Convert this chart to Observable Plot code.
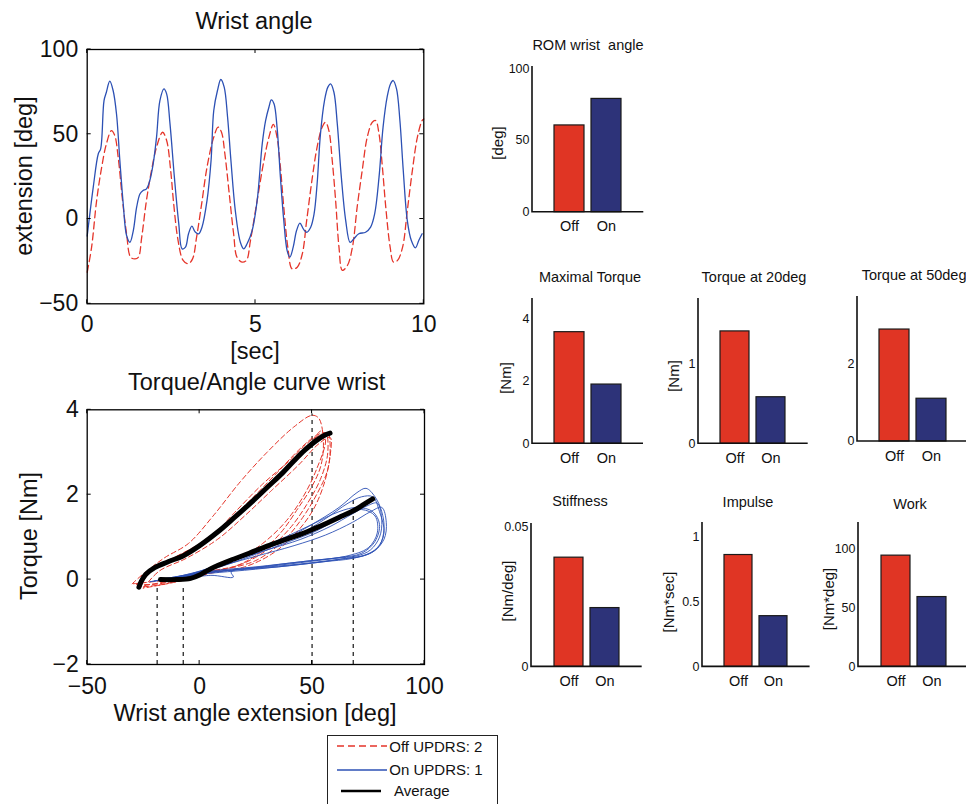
<!DOCTYPE html>
<html>
<head>
<meta charset="utf-8">
<script src="https://cdn.jsdelivr.net/npm/d3@7"></script>
<script src="https://cdn.jsdelivr.net/npm/@observablehq/plot@0.6"></script>
<style>
  html, body { margin: 0; padding: 0; background: #fff; }
  #root { position: relative; width: 966px; height: 804px; overflow: hidden; background: #fff;
          font-family: "Liberation Sans", Arial, Helvetica, sans-serif; color: #111; }
  .pl { position: absolute; }
  .pl svg { display: block; max-width: none !important; background: transparent; }
  .lbl { position: absolute; white-space: pre; line-height: 1; transform: translate(-50%, -50%); }
  .lblL { position: absolute; white-space: pre; line-height: 1; transform: translate(0, -50%); }
  .vlbl { position: absolute; white-space: pre; line-height: 1; transform: translate(-50%, -50%) rotate(-90deg); }
  #legend { position: absolute; left: 327px; top: 735px; width: 169px; height: 90px;
            border: 1.3px solid #222; background: #fff; }
</style>
</head>
<body>
<div id="root"></div>
<script>
// ---------------- DATA ----------------
// Wrist angle time series (sec, deg)
const onTime = [0, 0.18, 0.33, 0.4, 0.5, 0.57, 0.67, 0.77, 0.87, 0.97, 1.07, 1.17, 1.27, 1.37, 1.47, 1.57, 1.66, 1.76, 1.86, 1.96, 2.06, 2.16, 2.28, 2.36, 2.46, 2.59, 2.72, 2.82, 2.92, 3.01, 3.11, 3.21, 3.31, 3.41, 3.56, 3.68, 3.76, 3.87, 3.97, 4.07, 4.17, 4.27, 4.4, 4.55, 4.65, 4.75, 4.9, 5.05, 5.2, 5.3, 5.4, 5.47, 5.55, 5.64, 5.74, 5.84, 5.94, 6.02, 6.12, 6.22, 6.32, 6.42, 6.52, 6.64, 6.74, 6.83, 6.93, 7.05, 7.15, 7.23, 7.33, 7.43, 7.55, 7.68, 7.81, 7.92, 8.07, 8.27, 8.42, 8.54, 8.67, 8.79, 8.91, 9.01, 9.09, 9.19, 9.29, 9.39, 9.51, 9.63, 9.75, 9.85, 9.95];
const onAngle = [-10, 18.8, 38.5, 41.4, 69.9, 74.8, 81.3, 75.8, 62.1, 34.5, 9, -9.7, -13.7, -6.8, 7.1, 14.9, 16.8, 17.8, 22.7, 32.5, 48.3, 69.9, 76.8, 73.8, 56.1, 24.7, -2.7, -17.6, -16.6, -8.7, -4.2, -7.7, -8.7, -4.8, 11, 34.5, 64, 75.8, 82.3, 77.8, 60.2, 34.5, 5, -13.7, -17.6, -14.6, -6.8, 11, 44.3, 58.1, 66.1, 70.3, 68, 54.2, 24.7, -0.9, -18.6, -22.5, -16.6, -6.8, -2.4, -5.8, -7.8, -4.8, 3, 20.7, 50.2, 69.9, 77.8, 79.7, 74.8, 56.1, 24.7, -0.9, -13.7, -11.7, -8.7, -7.8, -4.8, 3, 24.7, 54.2, 71.9, 79.7, 81.7, 76.8, 58.1, 28.6, -0.9, -12.7, -17, -12.7, -8.7];
const offTime = [0, 0.13, 0.28, 0.43, 0.57, 0.72, 0.82, 0.92, 1.05, 1.17, 1.29, 1.42, 1.52, 1.62, 1.76, 1.91, 2.06, 2.24, 2.36, 2.48, 2.57, 2.7, 2.85, 3.0, 3.13, 3.25, 3.4, 3.56, 3.76, 3.89, 3.99, 4.09, 4.22, 4.35, 4.45, 4.6, 4.73, 4.85, 5.05, 5.25, 5.4, 5.53, 5.64, 5.74, 5.84, 5.96, 6.09, 6.24, 6.39, 6.52, 6.69, 6.83, 6.98, 7.08, 7.18, 7.28, 7.38, 7.48, 7.58, 7.73, 7.88, 8.02, 8.17, 8.32, 8.47, 8.57, 8.67, 8.77, 8.87, 9.0, 9.1, 9.22, 9.37, 9.51, 9.66, 9.81, 9.95, 10];
const offAngle = [-31.4, -16.7, 10.9, 30.6, 44.3, 52.2, 49.2, 36.5, 10.9, -8.7, -22.5, -23.5, -22.5, -10.7, 10.9, 28.6, 42.4, 51.2, 46.3, 28.6, 8.9, -12.7, -24.4, -26.4, -23.5, -10.7, 8.9, 30.6, 48.3, 54.2, 51.2, 38.5, 14.9, -8.7, -22.5, -25.4, -24.4, -12.7, 11, 34.5, 48.3, 55.8, 48.3, 30.6, 7, -16.6, -29.4, -28.4, -20.6, -0.9, 24.7, 42.4, 54.2, 57.1, 52.2, 34.5, 11, -16.6, -30.3, -27.4, -16.6, 7, 28.6, 48.3, 57.1, 58.1, 50.2, 30.6, 7, -16.6, -25.4, -24.4, -16.6, 5, 28.6, 48.3, 58.1, 59];
const wristXTicks = [0, 5, 10];
const wristYTicks = [-50, 0, 50, 100];

// Torque / angle loops: [angle deg, torque Nm]
const offLoops = [
  [[-27,-0.18],[-24,0.15],[-16,0.5],[-5,0.85],[6,1.5],[18,2.3],[30,3.0],[42,3.6],[50,3.87],[53,3.8],[55,3.3],[54,2.7],[50,2.2],[44,1.7],[36,1.1],[26,0.6],[15,0.3],[0,0.15],[-15,-0.1],[-27,-0.18]],
  [[-26,-0.15],[-22,0.2],[-12,0.5],[0,0.85],[12,1.35],[24,1.95],[35,2.55],[45,3.1],[52,3.4],[56,3.45],[57,3.0],[54,2.4],[48,1.8],[40,1.2],[30,0.7],[18,0.35],[5,0.2],[-10,0.0],[-26,-0.15]],
  [[-28,-0.12],[-20,0.3],[-8,0.6],[5,1.0],[15,1.55],[28,2.25],[40,2.8],[50,3.3],[57,3.45],[58,3.2],[57,2.6],[52,2.0],[45,1.4],[37,0.9],[25,0.45],[12,0.25],[-2,0.1],[-18,-0.1],[-28,-0.12]],
  [[-25,-0.2],[-18,0.2],[-6,0.5],[8,0.95],[20,1.5],[32,2.1],[44,2.7],[53,3.2],[58,3.35],[58,2.9],[55,2.2],[50,1.6],[42,1.05],[32,0.6],[20,0.3],[5,0.15],[-10,-0.05],[-25,-0.2]],
  [[-30,-0.1],[-22,0.25],[-10,0.5],[2,0.9],[14,1.4],[26,2.0],[38,2.6],[48,3.1],[54,3.5],[56,3.3],[52,2.6],[46,1.95],[38,1.35],[28,0.85],[16,0.45],[2,0.2],[-14,0.0],[-30,-0.1]]
];
const onLoops = [
  [[-22,-0.05],[-10,0.05],[5,0.15],[20,0.22],[40,0.33],[55,0.42],[65,0.5],[75,0.6],[80,0.8],[82,1.2],[81,1.6],[78,1.95],[74,2.15],[70,2.05],[62,1.7],[50,1.3],[38,0.95],[25,0.65],[10,0.35],[-5,0.1],[-22,-0.05]],
  [[-18,0.0],[0,0.15],[20,0.25],[45,0.37],[62,0.48],[72,0.55],[79,0.75],[82,1.1],[80,1.6],[77,1.95],[72,1.95],[66,1.8],[55,1.4],[42,1.0],[28,0.7],[12,0.4],[-3,0.15],[-18,0.0]],
  [[-15,0.0],[5,0.18],[25,0.28],[45,0.4],[60,0.5],[70,0.56],[76,0.7],[80,1.0],[81,1.4],[79,1.8],[75,1.75],[68,1.55],[58,1.25],[45,0.95],[30,0.7],[15,0.45],[0,0.2],[-15,0.0]],
  [[-20,-0.03],[-5,0.1],[15,0.22],[35,0.3],[55,0.42],[68,0.5],[77,0.65],[82,0.95],[83,1.35],[81,1.7],[76,1.6],[68,1.35],[56,1.05],[42,0.8],[25,0.55],[8,0.3],[-8,0.08],[-20,-0.03]],
  [[-12,0.02],[5,0.2],[25,0.3],[45,0.42],[62,0.52],[72,0.62],[78,0.9],[80,1.3],[77,1.6],[70,1.7],[62,1.6],[50,1.3],[38,1.0],[25,0.7],[10,0.4],[-2,0.15],[-12,0.02]],
  [[-10,0.0],[5,0.1],[15,0.06],[14,0.18],[30,0.32],[50,0.45],[65,0.55],[75,0.75],[79,1.1],[78,1.5],[72,1.65],[64,1.5],[52,1.15],[40,0.9],[26,0.62],[12,0.35],[-10,0.0]]
];
const offAverage = [[-27,-0.18],[-26,-0.05],[-24,0.12],[-20,0.28],[-14,0.42],[-7,0.57],[0,0.8],[8,1.12],[15,1.44],[23,1.82],[30,2.17],[37,2.52],[42,2.8],[47,3.06],[52,3.28],[56,3.41],[58,3.45]];
const onAverage = [[-17.4,0.0],[-10,0.0],[-4,0.03],[0,0.11],[3,0.2],[8,0.33],[15,0.48],[22,0.62],[30,0.79],[38,0.94],[45,1.07],[51,1.2],[57,1.34],[63,1.49],[69,1.64],[73,1.77],[77,1.9]];
const markerAngles = [-18.9, -7.3, 50, 68.3];
const markerTops = [-0.2, -0.2, 3.9, 1.9];
const torqueXTicks = [-50, 0, 50, 100];
const torqueYTicks = [-2, 0, 2, 4];

// Bar panels
const barGroups = ["Off", "On"];
const romValues = [60.5, 79];
const maxTorqueValues = [3.58, 1.9];
const torque20Values = [1.40, 0.58];
const torque50Values = [2.88, 1.10];
const stiffnessValues = [0.039, 0.021];
const impulseValues = [0.86, 0.39];
const workValues = [94, 59];
const romTicks = [0, 50, 100];
const maxTorqueTicks = [0, 2, 4];
const torque20Ticks = [0, 1];
const torque50Ticks = [0, 2];
const stiffnessTicks = [0, 0.05];
const impulseTicks = [0, 0.5, 1];
const workTicks = [0, 50, 100];

// ---------------- STYLE ----------------
const FONT = '"Liberation Sans", Arial, Helvetica, sans-serif';
const RED_LINE = "#e5352a";
const BLUE_LINE = "#2c50b4";
const RED_BAR = "#e03524";
const BLUE_BAR = "#2d3379";
const fmt = d3.format("~g");
const root = document.getElementById("root");

function place(svg, left, top) {
  const d = document.createElement("div");
  d.className = "pl";
  d.style.left = left + "px";
  d.style.top = top + "px";
  d.appendChild(svg);
  root.appendChild(d);
}
function text(str, x, y, size, cls = "lbl") {
  const d = document.createElement("div");
  d.className = cls;
  d.textContent = str;
  d.style.left = x + "px";
  d.style.top = y + "px";
  d.style.fontSize = size + "px";
  root.appendChild(d);
  return d;
}
// inward ticks on all four sides (MATLAB box style)
function innerTicks(xt, yt, len) {
  return (index, scales, values, dim) => {
    const g = d3.create("svg:g").attr("stroke", "#000").attr("stroke-width", 1).attr("fill", "none");
    const top = dim.marginTop, bottom = dim.height - dim.marginBottom;
    const left = dim.marginLeft, right = dim.width - dim.marginRight;
    for (const t of xt) {
      const px = scales.x(t);
      g.append("path").attr("d", `M${px},${bottom}v${-len}M${px},${top}v${len}`);
    }
    for (const t of yt) {
      const py = scales.y(t);
      g.append("path").attr("d", `M${left},${py}h${len}M${right},${py}h${-len}`);
    }
    return g.node();
  };
}
// left + bottom axis lines for bar panels
function axisLines(index, scales, values, dim) {
  const x0 = dim.marginLeft, y0 = dim.height - dim.marginBottom;
  const y1 = dim.marginTop, x1 = dim.width - dim.marginRight;
  const g = d3.create("svg:g");
  g.append("path").attr("d", `M${x0},${y1}V${y0}H${x1}`)
    .attr("fill", "none").attr("stroke", "#111").attr("stroke-width", 1.6);
  return g.node();
}

// ---------------- WRIST ANGLE ----------------
{
  const onData = onTime.map((t, i) => ({t, v: onAngle[i]}));
  const offData = offTime.map((t, i) => ({t, v: offAngle[i]}));
  const svg = Plot.plot({
    width: 460, height: 345,
    marginLeft: 86.7, marginRight: 36.7, marginTop: 49, marginBottom: 41.7,
    x: {domain: [0, 10]},
    y: {domain: [-50, 100]},
    style: {fontFamily: FONT, fontSize: "23px", color: "#111", background: "transparent"},
    marks: [
      Plot.line(offData, {x: "t", y: "v", stroke: RED_LINE, strokeWidth: 1.3, strokeDasharray: "7,4", curve: "catmull-rom"}),
      Plot.line(onData, {x: "t", y: "v", stroke: BLUE_LINE, strokeWidth: 1.3, curve: "catmull-rom"}),
      Plot.frame({stroke: "#000", strokeWidth: 1.3}),
      innerTicks(wristXTicks, wristYTicks, 4),
      Plot.axisX({ticks: wristXTicks, tickFormat: fmt, tickSize: 0, tickPadding: 12, label: null, fontSize: 23}),
      Plot.axisY({ticks: wristYTicks, tickFormat: fmt, tickSize: 0, tickPadding: 9, label: null, fontSize: 23})
    ]
  });
  place(svg, 0, 0);
  text("Wrist angle", 254, 22, 23.5);
  text("[sec]", 255, 352, 23.5);
  text("extension [deg]", 25, 176, 23.5, "vlbl");
}

// ---------------- TORQUE / ANGLE ----------------
{
  const offLoopData = offLoops.flatMap((loop, k) => loop.map(([a, tq]) => ({a, tq, k})));
  const onLoopData = onLoops.flatMap((loop, k) => loop.map(([a, tq]) => ({a, tq, k})));
  const offAvgData = offAverage.map(([a, tq]) => ({a, tq}));
  const onAvgData = onAverage.map(([a, tq]) => ({a, tq}));
  const markerData = markerAngles.map((a, i) => ({a, top: markerTops[i]}));
  const svg = Plot.plot({
    width: 460, height: 330,
    marginLeft: 86.7, marginRight: 36, marginTop: 29.3, marginBottom: 46,
    x: {domain: [-50, 100]},
    y: {domain: [-2, 4]},
    style: {fontFamily: FONT, fontSize: "23px", color: "#111", background: "transparent"},
    marks: [
      Plot.ruleX(markerData, {x: "a", y1: -2, y2: "top", stroke: "#000", strokeWidth: 1.1, strokeDasharray: "4,4"}),
      Plot.line(offLoopData, {x: "a", y: "tq", z: "k", stroke: RED_LINE, strokeWidth: 1, strokeDasharray: "5,3", curve: "catmull-rom"}),
      Plot.line(onLoopData, {x: "a", y: "tq", z: "k", stroke: BLUE_LINE, strokeWidth: 0.9, curve: "catmull-rom"}),
      Plot.line(offAvgData, {x: "a", y: "tq", stroke: "#000", strokeWidth: 5, strokeLinecap: "round", curve: "catmull-rom"}),
      Plot.line(onAvgData, {x: "a", y: "tq", stroke: "#000", strokeWidth: 5, strokeLinecap: "round", curve: "catmull-rom"}),
      Plot.frame({stroke: "#000", strokeWidth: 1.3}),
      innerTicks(torqueXTicks, torqueYTicks, 4),
      Plot.axisX({ticks: torqueXTicks, tickFormat: fmt, tickSize: 0, tickPadding: 13, label: null, fontSize: 23}),
      Plot.axisY({ticks: torqueYTicks, tickFormat: fmt, tickSize: 0, tickPadding: 8.5, label: null, fontSize: 23})
    ]
  });
  place(svg, 0, 380);
  text("Torque/Angle curve wrist", 256.7, 383, 23.5);
  text("Wrist angle extension [deg]", 255, 714, 23.5);
  text("Torque [Nm]", 30, 536, 23.5, "vlbl");
}

// ---------------- BAR PANELS ----------------
function barPanel(o) {
  const mL = 42, mR = 1, mT = 8, mB = 34;
  const w = o.right - o.axisX + mL + mR;
  const h = o.bottom - o.top + mT + mB;
  const data = barGroups.map((g, i) => ({group: g, value: o.values[i]}));
  const svg = Plot.plot({
    width: w, height: h,
    marginLeft: mL, marginRight: mR, marginTop: mT, marginBottom: mB,
    x: {domain: barGroups, paddingInner: 0.2, paddingOuter: 0.6},
    y: {domain: [0, o.ymax]},
    color: {domain: barGroups, range: [RED_BAR, BLUE_BAR]},
    style: {fontFamily: FONT, fontSize: "13px", color: "#111", background: "transparent"},
    marks: [
      Plot.barY(data, {x: "group", y: "value", fill: "group", stroke: "#1a1a1a", strokeWidth: 1.2}),
      axisLines,
      Plot.axisY({ticks: o.ticks, tickFormat: fmt, tickSize: 0, tickPadding: 3, label: null, fontSize: 12.5}),
      Plot.axisX({tickSize: 0, tickPadding: 9, label: null, fontSize: 14.5})
    ]
  });
  place(svg, o.axisX - mL, o.top - mT);
}

barPanel({axisX: 531.7, top: 66, bottom: 211.7, right: 643, ymax: 101.6, ticks: romTicks, values: romValues});
barPanel({axisX: 531.7, top: 298, bottom: 443.3, right: 642.7, ymax: 4.66, ticks: maxTorqueTicks, values: maxTorqueValues});
barPanel({axisX: 698.3, top: 298, bottom: 443.3, right: 808, ymax: 1.81, ticks: torque20Ticks, values: torque20Values});
barPanel({axisX: 856.7, top: 296, bottom: 441, right: 968, ymax: 3.73, ticks: torque50Ticks, values: torque50Values});
barPanel({axisX: 531, top: 523.3, bottom: 666.7, right: 641.7, ymax: 0.0512, ticks: stiffnessTicks, values: stiffnessValues});
barPanel({axisX: 701.7, top: 522.3, bottom: 666.7, right: 809.3, ymax: 1.11, ticks: impulseTicks, values: impulseValues});
barPanel({axisX: 858.3, top: 522.3, bottom: 666.7, right: 969, ymax: 122, ticks: workTicks, values: workValues});

text("ROM wrist  angle", 588, 45, 14.5);
text("Maximal Torque", 590, 277, 14.5);
text("Torque at 20deg", 754, 277, 14.5);
text("Torque at 50deg", 861.7, 275, 14.5, "lblL");
text("Stiffness", 580, 501, 14.5);
text("Impulse", 748, 502, 14.5);
text("Work", 910, 504, 14.5);

text("[deg]", 496.7, 143.3, 15, "vlbl");
text("[Nm]", 505, 378, 15, "vlbl");
text("[Nm]", 672.7, 376, 15, "vlbl");
text("[Nm/deg]", 506.7, 591, 15, "vlbl");
text("[Nm*sec]", 668.3, 602, 15, "vlbl");
text("[Nm*deg]", 828.3, 599, 15, "vlbl");

// ---------------- LEGEND ----------------
{
  const lg = document.createElement("div");
  lg.id = "legend";
  root.appendChild(lg);
  const ns = "http://www.w3.org/2000/svg";
  const s = document.createElementNS(ns, "svg");
  s.setAttribute("width", 170); s.setAttribute("height", 90);
  s.style.position = "absolute"; s.style.left = "0"; s.style.top = "0";
  const entries = [
    {y: 10, x1: 9, x2: 59, stroke: RED_LINE, w: 1.3, dash: "7,4"},
    {y: 34, x1: 9, x2: 59, stroke: BLUE_LINE, w: 1.3, dash: null},
    {y: 55, x1: 13, x2: 53, stroke: "#000", w: 2.6, dash: null}
  ];
  for (const e of entries) {
    const l = document.createElementNS(ns, "line");
    l.setAttribute("x1", e.x1); l.setAttribute("x2", e.x2);
    l.setAttribute("y1", e.y); l.setAttribute("y2", e.y);
    l.setAttribute("stroke", e.stroke); l.setAttribute("stroke-width", e.w);
    if (e.dash) l.setAttribute("stroke-dasharray", e.dash);
    s.appendChild(l);
  }
  lg.appendChild(s);
  text("Off UPDRS: 2", 389.3, 745.5, 15, "lblL");
  text("On UPDRS: 1", 389.3, 769, 15, "lblL");
  text("Average", 394, 789.5, 15, "lblL");
}
</script>
</body>
</html>
